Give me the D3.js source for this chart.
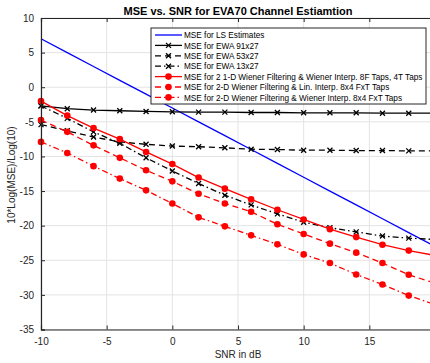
<!DOCTYPE html>
<html>
<head>
<meta charset="utf-8">
<script src="https://cdn.jsdelivr.net/npm/d3@7"></script>
<style>
  body { margin: 0; background: #fff; }
  svg { display: block; font-family: "Liberation Sans", Arial, sans-serif; }
</style>
</head>
<body>
<div id="chart"></div>
<script>
// SNR points (dB)
var snr = [-10, -8, -6, -4, -2, 0, 2, 4, 6, 8, 10, 12, 14, 16, 18, 20];

// MSE values in dB
var mseLS = [7, 5, 3, 1, -1, -3, -5, -7, -9, -11, -13, -15, -17, -19, -21, -23];
var mseEWA91 = [-2.7, -3.1, -3.3, -3.4, -3.5, -3.55, -3.6, -3.6, -3.65, -3.65, -3.7, -3.7, -3.7, -3.75, -3.75, -3.75];
var mseEWA53 = [-5.4, -6.3, -7.2, -7.9, -8.25, -8.5, -8.6, -8.75, -8.95, -9.0, -9.1, -9.1, -9.15, -9.15, -9.2, -9.2];
var mseEWA13 = [-2.7, -4.5, -6.45, -8.1, -10.2, -12.1, -13.9, -15.6, -17.0, -18.3, -19.5, -20.3, -20.9, -21.5, -21.8, -22.0];
var mseWien1D = [-2.0, -4.1, -5.9, -7.5, -9.35, -11.1, -13.05, -14.65, -16.2, -17.7, -19.1, -20.5, -21.65, -22.75, -23.6, -24.3];
var mseLin = [-4.75, -6.45, -8.4, -10.2, -12.0, -13.6, -15.4, -16.8, -18.0, -19.8, -21.2, -22.6, -23.9, -25.4, -27.1, -28.3];
var mseWien2D = [-7.9, -9.5, -11.4, -13.2, -14.9, -16.8, -18.8, -20.1, -21.4, -22.7, -24.15, -25.4, -27.05, -28.5, -30.1, -31.4];

var xTicks = [-10, -5, 0, 5, 10, 15, 20];
var yTicks = [10, 5, 0, -5, -10, -15, -20, -25, -30, -35];

var seriesNames = [
    "MSE for LS Estimates",
    "MSE for EWA 91x27",
    "MSE for EWA 53x27",
    "MSE for EWA 13x27",
    "MSE for 2 1-D Wiener Filtering & Wiener Interp. 8F Taps, 4T Taps",
    "MSE for 2-D Wiener Filtering & Lin. Interp. 8x4 FxT Taps",
    "MSE for 2-D Wiener Filtering & Wiener Interp. 8x4 FxT Taps"
];

var width = 430;
var height = 363;
var margin = { left: 41, top: 18, right: -5, bottom: 33.5 };

var series = [
    { name: seriesNames[0], values: mseLS, color: "#0000ff", dash: null, marker: "none" },
    { name: seriesNames[1], values: mseEWA91, color: "#000", dash: null, marker: "x" },
    { name: seriesNames[2], values: mseEWA53, color: "#000", dash: "6,4", marker: "x" },
    { name: seriesNames[3], values: mseEWA13, color: "#000", dash: "6,3,1.5,3", marker: "x" },
    { name: seriesNames[4], values: mseWien1D, color: "#ff0000", dash: null, marker: "o" },
    { name: seriesNames[5], values: mseLin, color: "#ff0000", dash: "6,4", marker: "o" },
    { name: seriesNames[6], values: mseWien2D, color: "#ff0000", dash: "6,3,1.5,3", marker: "o" }
];

var svg = d3.select("#chart").
    append("svg").
    attr("width", width).
    attr("height", height);

var xScale = d3.scaleLinear().
    domain([-10, 20]).
    range([margin.left, width - margin.right]);

var yScale = d3.scaleLinear().
    domain([-35, 10]).
    range([height - margin.bottom, margin.top]);

var axisColor = "#262626";
var gridColor = "#e3e3e3";

// grid
var grid = svg.append("g");
grid.selectAll("line.vx").
    data(xTicks).
    enter().
    append("line").
    attr("x1", function (d) { return xScale(d); }).
    attr("x2", function (d) { return xScale(d); }).
    attr("y1", yScale(-35)).
    attr("y2", yScale(10)).
    attr("stroke", gridColor).
    attr("stroke-width", 1);
grid.selectAll("line.hy").
    data(yTicks).
    enter().
    append("line").
    attr("x1", xScale(-10)).
    attr("x2", xScale(20)).
    attr("y1", function (d) { return yScale(d); }).
    attr("y2", function (d) { return yScale(d); }).
    attr("stroke", gridColor).
    attr("stroke-width", 1);

// series lines
var line = d3.line().
    x(function (d, i) { return xScale(snr[i]); }).
    y(function (d) { return yScale(d); });

series.forEach(function (s) {
    svg.append("path").
        datum(s.values).
        attr("d", line).
        attr("fill", "none").
        attr("stroke", s.color).
        attr("stroke-width", 1.3).
        attr("stroke-dasharray", s.dash);

    if (s.marker === "o") {
        svg.selectAll(null).
            data(s.values).
            enter().
            append("circle").
            attr("cx", function (d, i) { return xScale(snr[i]); }).
            attr("cy", function (d) { return yScale(d); }).
            attr("r", 3.3).
            attr("fill", s.color);
    } else if (s.marker === "x") {
        svg.selectAll(null).
            data(s.values).
            enter().
            append("path").
            attr("transform", function (d, i) {
                return "translate(" + xScale(snr[i]) + "," + yScale(d) + ")";
            }).
            attr("d", "M-2.5,-2.5L2.5,2.5M-2.5,2.5L2.5,-2.5").
            attr("stroke", s.color).
            attr("stroke-width", 1.3);
    }
});

// axes (inward ticks, box on top), plain hyphen minus like the original
var fmt = function (d) { return String(d); };
var xAxis = d3.axisBottom(xScale).tickValues(xTicks).tickSize(-4).tickPadding(8).tickFormat(fmt);
var xAxisTop = d3.axisTop(xScale).tickValues(xTicks).tickSize(-4).tickFormat("");
var yAxis = d3.axisLeft(yScale).tickValues(yTicks).tickSize(-4).tickPadding(7).tickFormat(fmt);

function styleAxis(g) {
    g.select(".domain").attr("stroke", axisColor).attr("stroke-width", 1.2);
    g.selectAll(".tick line").attr("stroke", axisColor);
    g.selectAll(".tick text").attr("fill", axisColor).style("font-size", "10px").
        style("font-family", "Liberation Sans, Arial, sans-serif");
}

svg.append("g").
    attr("transform", "translate(0," + yScale(-35) + ")").
    call(xAxis).
    call(styleAxis);

svg.append("g").
    attr("transform", "translate(0," + yScale(10) + ")").
    call(xAxisTop).
    call(styleAxis);

svg.append("g").
    attr("transform", "translate(" + xScale(-10) + ",0)").
    call(yAxis).
    call(styleAxis);

// title and labels
svg.append("text").
    attr("x", 238).
    attr("y", 15).
    attr("text-anchor", "middle").
    attr("font-size", "11px").
    attr("font-weight", "bold").
    attr("fill", "#000").
    text("MSE vs. SNR for EVA70 Channel Estiamtion");

svg.append("text").
    attr("x", 238).
    attr("y", 358).
    attr("text-anchor", "middle").
    attr("font-size", "10px").
    attr("fill", axisColor).
    text("SNR in dB");

svg.append("text").
    attr("transform", "translate(15,175) rotate(-90)").
    attr("text-anchor", "middle").
    attr("font-size", "10px").
    attr("fill", axisColor).
    text("10*Log(MSE)/Log(10)");

// legend
var legend = svg.append("g");
legend.append("rect").
    attr("x", 151).
    attr("y", 28).
    attr("width", 275).
    attr("height", 76).
    attr("fill", "#fff").
    attr("stroke", axisColor).
    attr("stroke-width", 1);

var legendTexts = [];
series.forEach(function (s, i) {
    var y = 35 + i * 10.4;
    legend.append("line").
        attr("x1", 155).
        attr("x2", 182).
        attr("y1", y).
        attr("y2", y).
        attr("stroke", s.color).
        attr("stroke-width", 1.3).
        attr("stroke-dasharray", s.dash);
    if (s.marker === "o") {
        legend.append("circle").
            attr("cx", 168.5).
            attr("cy", y).
            attr("r", 3.3).
            attr("fill", s.color);
    } else if (s.marker === "x") {
        legend.append("path").
            attr("transform", "translate(168.5," + y + ")").
            attr("d", "M-2.5,-2.5L2.5,2.5M-2.5,2.5L2.5,-2.5").
            attr("stroke", s.color).
            attr("stroke-width", 1.3);
    }
    legendTexts.push(legend.append("text").
        attr("x", 184).
        attr("y", y + 3.2).
        attr("font-size", "9px").
        attr("fill", "#000").
        text(s.name));
});

// shrink legend font so the longest entry ends inside the box, as in the original
var widest = d3.max(legendTexts, function (t) { return t.node().getComputedTextLength(); });
var fontSize = Math.min(9, 9 * 239 / widest);
legendTexts.forEach(function (t) { t.attr("font-size", fontSize + "px"); });
</script>
</body>
</html>
